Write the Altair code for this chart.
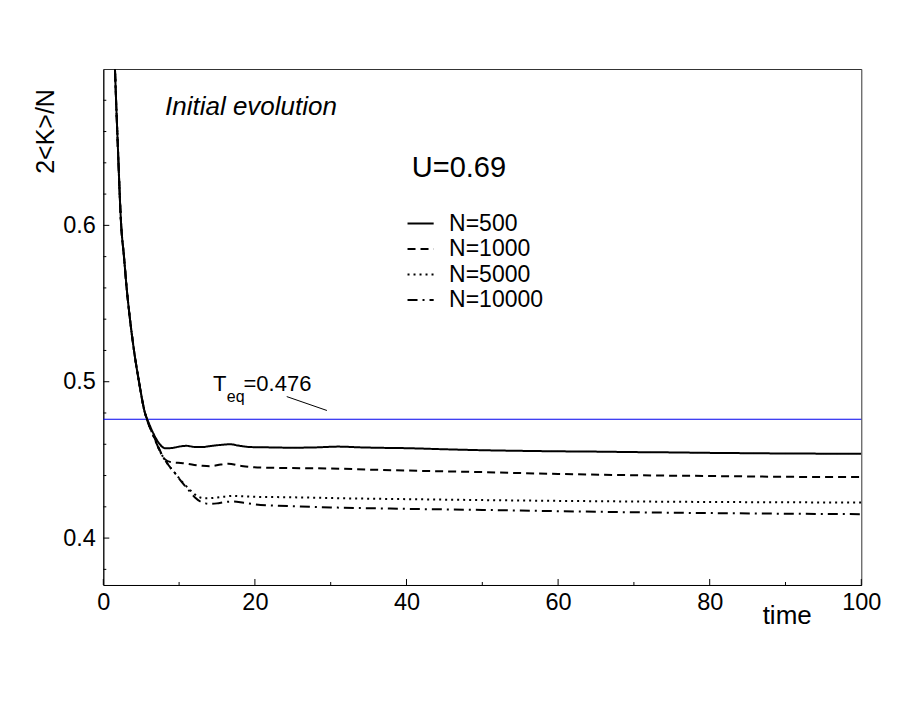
import altair as alt
import pandas as pd

# ---- data ----
series_names = ["N=500", "N=1000", "N=5000", "N=10000"]

early_t = [1.2, 1.54, 1.9, 2.36, 2.73, 3.08, 3.52, 4.05, 4.71, 5.5]
early_v = [0.755, 0.700, 0.653, 0.600, 0.580, 0.560, 0.540, 0.520, 0.500, 0.480]

n500_t = [5.8, 6.6, 7.3, 8.2, 9.2, 10, 11, 12, 13, 14, 15.5, 16.7, 18, 19.5, 22, 25, 28, 31, 34, 37, 40,
          45, 50, 55, 60, 65, 70, 75, 80, 85, 90, 95, 100]
n500_v = [0.476, 0.467, 0.461, 0.4574, 0.4577, 0.4585, 0.4590, 0.4583, 0.4582, 0.4588, 0.4596, 0.4600,
          0.4590, 0.4582, 0.4580, 0.4578, 0.4580, 0.4585, 0.4580, 0.4577, 0.4575, 0.4568, 0.4562, 0.4558,
          0.4555, 0.4553, 0.4550, 0.4548, 0.4545, 0.4543, 0.4541, 0.4540, 0.4539]

n1000_t = [5.8, 6.5, 7.2, 8.1, 9, 10.5, 12, 13, 14.1, 15.5, 16.5, 18, 19.5, 22, 26, 30, 35, 40, 50, 60, 70,
           80, 90, 100]
n1000_v = [0.4755, 0.467, 0.459, 0.4505, 0.4485, 0.4479, 0.4468, 0.4463, 0.4460, 0.4470, 0.4475, 0.4463,
           0.4454, 0.4450, 0.4447, 0.4445, 0.4438, 0.4432, 0.4422, 0.4410, 0.4402, 0.4397, 0.4392, 0.4390]

n5000_t = [5.8, 6.6, 7.5, 8.4, 9.46, 10.5, 11.4, 12.1, 12.8, 13.5, 14.5, 16, 17.1, 18.5, 20, 23, 26, 30, 35,
           40, 50, 60, 70, 80, 90, 100]
n5000_v = [0.4752, 0.4655, 0.4553, 0.448, 0.4415, 0.4355, 0.4310, 0.4278, 0.4260, 0.4255, 0.4257, 0.4265,
           0.4270, 0.4267, 0.4264, 0.4262, 0.4260, 0.4256, 0.4252, 0.4249, 0.4243, 0.4238, 0.4234, 0.4231,
           0.4229, 0.4227]

n10000_t = [5.8, 6.6, 7.5, 8.4, 9.46, 10.5, 11.4, 12.1, 12.8, 13.5, 14.1, 15, 16, 17.1, 18.5, 20, 23, 26, 30,
            35, 40, 50, 60, 70, 80, 90, 100]
n10000_v = [0.4752, 0.4655, 0.4553, 0.448, 0.4415, 0.4350, 0.4298, 0.4260, 0.4234, 0.4222, 0.4219, 0.4222,
            0.4230, 0.4234, 0.4226, 0.4216, 0.4207, 0.4202, 0.4196, 0.4191, 0.4187, 0.4180, 0.4172, 0.4165,
            0.4160, 0.4156, 0.4153]

t_eq = 0.476
pointer_t = [24.2, 29.5]
pointer_v = [0.4905, 0.4816]

y_major = [0.4, 0.5, 0.6]
y_minor = [0.38, 0.42, 0.44, 0.46, 0.48, 0.52, 0.54, 0.56, 0.58, 0.62, 0.64, 0.66, 0.68]
x_major = [0, 20, 40, 60, 80, 100]
x_minor = [10, 30, 50, 70, 90]

# ---- build tables ----
rows = []
for name, ts, vs in [("N=500", n500_t, n500_v), ("N=1000", n1000_t, n1000_v),
                     ("N=5000", n5000_t, n5000_v), ("N=10000", n10000_t, n10000_v)]:
    for t, v in zip(early_t + ts, early_v + vs):
        rows.append({"t": t, "v": v, "series": name})
df = pd.DataFrame(rows)

W, H = 758, 516
FONT = "Liberation Sans"

xscale = alt.Scale(domain=[0, 100], nice=False, zero=False)
yscale = alt.Scale(domain=[0.37, 0.70], nice=False, zero=False)

lines = alt.Chart(df).mark_line(clip=True, strokeWidth=2, color="black", interpolate="monotone").encode(
    x=alt.X("t:Q", scale=xscale,
            axis=alt.Axis(values=x_major, ticks=False, tickSize=0, labelPadding=6, labelFontSize=23.5,
                          labelFlush=False, labelColor="black", domainColor="black", grid=False,
                          title="time", titleFontSize=26, titleFontWeight="normal", titleColor="black",
                          titleX=683.4, titleY=38.7, titleAlign="center", titleBaseline="alphabetic")),
    y=alt.Y("v:Q", scale=yscale,
            axis=alt.Axis(values=y_major, format=".1f", ticks=False, tickSize=0, labelPadding=8,
                          labelFlush=False, labelFontSize=23.5, labelColor="black", domainColor="black",
                          grid=False,
                          title="2<K>/N", titleFontSize=25, titleFontWeight="normal", titleColor="black",
                          titleX=-50, titleY=62, titleAlign="center", titleBaseline="alphabetic",
                          titleAngle=270)),
    strokeDash=alt.StrokeDash("series:N",
                              scale=alt.Scale(domain=series_names,
                                              range=[[1, 0], [8, 5], [2, 4], [10, 5, 2, 5]]),
                              legend=alt.Legend(title=None, orient="none", legendX=305.8, legendY=143,
                                                symbolType="M-3,0H3", symbolSize=76, symbolStrokeWidth=2,
                                                symbolStrokeColor="black", labelFontSize=23,
                                                labelOffset=17, rowPadding=1.5, padding=0,
                                                labelColor="black")),
)

teq_rule = alt.Chart(pd.DataFrame({"v": [t_eq]})).mark_rule(color="#0000ee", strokeWidth=1).encode(
    y=alt.Y("v:Q", scale=yscale))

pointer = alt.Chart(pd.DataFrame({"t": pointer_t, "v": pointer_v})).mark_line(
    color="black", strokeWidth=1).encode(x=alt.X("t:Q", scale=xscale), y=alt.Y("v:Q", scale=yscale))

ymaj = alt.Chart(pd.DataFrame({"v": y_major})).mark_rule(color="black", strokeWidth=1).encode(
    y=alt.Y("v:Q", scale=yscale), x=alt.value(0), x2=alt.value(6))
ymin = alt.Chart(pd.DataFrame({"v": y_minor})).mark_rule(color="black", strokeWidth=1).encode(
    y=alt.Y("v:Q", scale=yscale), x=alt.value(0), x2=alt.value(3))
xmaj = alt.Chart(pd.DataFrame({"t": x_major})).mark_rule(color="black", strokeWidth=1).encode(
    x=alt.X("t:Q", scale=xscale), y=alt.value(H), y2=alt.value(H - 6))
xmin = alt.Chart(pd.DataFrame({"t": x_minor})).mark_rule(color="black", strokeWidth=1).encode(
    x=alt.X("t:Q", scale=xscale), y=alt.value(H), y2=alt.value(H - 3))

labels = pd.DataFrame([
    {"t": 8.14, "v": 0.6705, "txt": "Initial evolution", "size": 26, "style": "italic"},
    {"t": 40.7, "v": 0.6307, "txt": "U=0.69", "size": 29, "style": "normal"},
    {"t": 14.47, "v": 0.4941, "txt": "T", "size": 22, "style": "normal"},
    {"t": 16.3, "v": 0.4871, "txt": "eq", "size": 16, "style": "normal"},
    {"t": 18.5, "v": 0.4941, "txt": "=0.476", "size": 22, "style": "normal"},
])


def text_layer(row):
    return alt.Chart(pd.DataFrame([row])).mark_text(
        align="left", baseline="alphabetic", fontSize=row["size"], fontStyle=row["style"],
        font=FONT, color="black").encode(
        x=alt.X("t:Q", scale=xscale), y=alt.Y("v:Q", scale=yscale), text="txt:N")


texts = [text_layer(r) for r in labels.to_dict("records")]

chart = alt.layer(teq_rule, lines, pointer, ymaj, ymin, xmaj, xmin, *texts).properties(
    width=W, height=H,
    autosize=alt.AutoSizeParams(type="none"),
    padding={"left": 95.3, "top": 61, "right": 40, "bottom": 100},
    background="white",
).configure(font=FONT).configure_view(stroke="#333333", strokeWidth=1)

chart.save("out.html", embed_options={"renderer": "svg", "actions": False})
